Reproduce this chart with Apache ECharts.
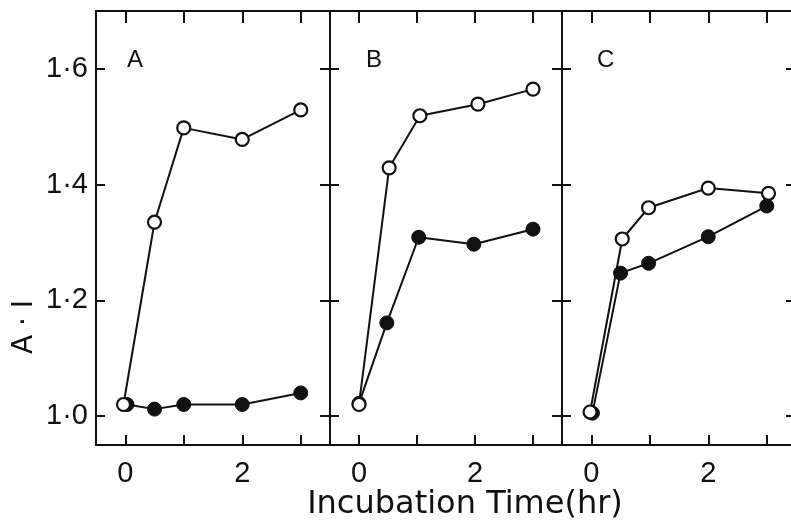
<!DOCTYPE html>
<html>
<head>
<meta charset="utf-8">
<script src="https://cdn.jsdelivr.net/npm/echarts@6/dist/echarts.min.js"></script>
<style>
  html, body { margin: 0; background: #fff; overflow: hidden; }
  /* a little wider than the window: panel C runs past the right edge */
  #chart { width: 800px; height: 521px; }
</style>
</head>
<body>
<div id="chart"></div>
<script>
// panel letters
const panelNames = ['A', 'B', 'C']

// open circles
const aOpenX = [-0.03, 0.5, 1, 2, 3]
const aOpenY = [1.02, 1.335, 1.498, 1.478, 1.529]
const bOpenX = [0, 0.52, 1.05, 2.05, 3]
const bOpenY = [1.02, 1.429, 1.519, 1.539, 1.565]
const cOpenX = [-0.02, 0.53, 0.98, 2, 3.03]
const cOpenY = [1.007, 1.306, 1.36, 1.394, 1.385]

// filled circles
const aFilledX = [0.03, 0.5, 1, 2, 3]
const aFilledY = [1.02, 1.012, 1.02, 1.02, 1.04]
const bFilledX = [0, 0.48, 1.03, 1.98, 3]
const bFilledY = [1.022, 1.161, 1.309, 1.297, 1.323]
const cFilledX = [0.02, 0.5, 0.98, 2, 3]
const cFilledY = [1.005, 1.247, 1.264, 1.31, 1.363]

// ticks
const xTicks = [0, 1, 2, 3]
const xTickLabels = [0, 2]
const yTicks = [1.0, 1.2, 1.4, 1.6]

const FONT = 'Liberation Sans'
const INK = '#111'

const pair = (xs, ys) => xs.map((x, i) => [x, ys[i]])
const openData = [pair(aOpenX, aOpenY), pair(bOpenX, bOpenY), pair(cOpenX, cOpenY)]
const filledData = [pair(aFilledX, aFilledY), pair(bFilledX, bFilledY), pair(cFilledX, cFilledY)]

const grids = [
  { left: 96, top: 11, width: 234, height: 434 },
  { left: 330, top: 11, width: 232, height: 434 },
  { left: 562, top: 11, width: 234, height: 434 }
]

const lineStyle = { color: INK, width: 2 }
const xAxis = []
const yAxis = []
const series = []

grids.forEach((g, i) => {
  // bottom
  xAxis.push({
    type: 'value', gridIndex: i, position: 'bottom',
    min: -0.5, max: 3.5,
    axisLine: { show: true, onZero: false, lineStyle },
    axisTick: { show: true, inside: true, length: 10, customValues: xTicks, lineStyle },
    axisLabel: {
      customValues: xTickLabels, margin: 14,
      color: INK, fontFamily: FONT, fontSize: 29
    },
    splitLine: { show: false }
  })
  // top
  xAxis.push({
    type: 'value', gridIndex: i, position: 'top',
    min: -0.5, max: 3.5,
    axisLine: { show: true, onZero: false, lineStyle },
    axisTick: { show: true, inside: true, length: 12, customValues: xTicks, lineStyle },
    axisLabel: { show: false },
    splitLine: { show: false }
  })
  // left
  yAxis.push({
    type: 'value', gridIndex: i, position: 'left',
    min: 0.95, max: 1.7,
    axisLine: { show: true, onZero: false, lineStyle },
    axisTick: { show: true, inside: true, length: 9, customValues: yTicks, lineStyle },
    axisLabel: {
      show: i === 0, customValues: yTicks, margin: 8,
      color: INK, fontFamily: FONT, fontSize: 29,
      formatter: v => v.toFixed(1).replace('.', '·')
    },
    splitLine: { show: false }
  })
  // right
  yAxis.push({
    type: 'value', gridIndex: i, position: 'right',
    min: 0.95, max: 1.7,
    axisLine: { show: true, onZero: false, lineStyle },
    axisTick: { show: true, inside: true, length: 10, customValues: yTicks, lineStyle },
    axisLabel: { show: false },
    splitLine: { show: false }
  })

  series.push({
    type: 'line', xAxisIndex: i * 2, yAxisIndex: i * 2,
    data: filledData[i],
    symbol: 'circle', symbolSize: 14,
    lineStyle: { color: INK, width: 2 },
    itemStyle: { color: INK, borderColor: INK, borderWidth: 1 },
    animation: false, z: 3
  })
  series.push({
    type: 'line', xAxisIndex: i * 2, yAxisIndex: i * 2,
    data: openData[i],
    symbol: 'circle', symbolSize: 13,
    lineStyle: { color: INK, width: 2 },
    itemStyle: { color: '#fff', borderColor: INK, borderWidth: 2.2 },
    animation: false, z: 4
  })
})

const titleLeft = [127, 366, 597]
const chart = echarts.init(document.getElementById('chart'))
chart.setOption({
  backgroundColor: '#fff',
  animation: false,
  title: panelNames.map((n, i) => ({
    text: n, left: titleLeft[i], top: 48, padding: 0,
    textStyle: { color: INK, fontFamily: FONT, fontSize: 24, fontWeight: 'normal' }
  })),
  grid: grids,
  xAxis,
  yAxis,
  series,
  graphic: [
    {
      type: 'text', x: 465, y: 505,
      style: {
        text: 'Incubation Time(hr)', fill: INK,
        font: '32px "DejaVu Sans"', textAlign: 'center', textVerticalAlign: 'middle'
      }
    },
    {
      type: 'text', x: 25, y: 327, rotation: Math.PI / 2,
      style: {
        text: 'A · I', fill: INK,
        font: '28px "DejaVu Sans"', textAlign: 'center', textVerticalAlign: 'middle'
      }
    }
  ]
})
</script>
</body>
</html>
